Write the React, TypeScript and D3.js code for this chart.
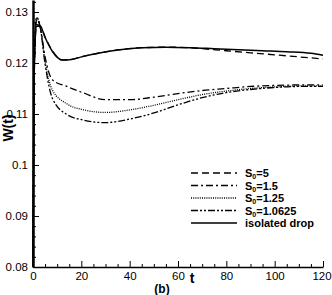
import * as d3 from "d3"
import { useEffect, useRef } from "react"

const width = 332
const height = 295

// time samples and W(t) values
const tIso = [0, 0.5, 1.5, 3, 5, 8, 12, 16, 20, 28, 36, 45, 55, 65, 75, 85, 95, 105, 115, 120]
const wIso = [0.08, 0.118, 0.1272, 0.1272, 0.125, 0.1223, 0.1206, 0.1207, 0.1212, 0.122, 0.1226, 0.123, 0.1231, 0.123, 0.1228, 0.1226, 0.1224, 0.1222, 0.1219, 0.1215]

const tS5 = [0, 0.5, 1.5, 3, 5, 8, 12, 16, 20, 28, 36, 45, 55, 65, 70, 80, 90, 100, 110, 120]
const wS5 = [0.08, 0.118, 0.1275, 0.1273, 0.1251, 0.1224, 0.1206, 0.1207, 0.1212, 0.122, 0.1226, 0.123, 0.1231, 0.123, 0.1228, 0.1224, 0.122, 0.1216, 0.1212, 0.1208]

const tLow = [0, 0.5, 1.5, 3, 5, 8, 14, 21, 30, 40, 50, 60, 70, 80, 90, 100, 110, 120]
const wS15 = [0.08, 0.119, 0.1285, 0.127, 0.1212, 0.1167, 0.1154, 0.1141, 0.1128, 0.1128, 0.1133, 0.114, 0.1146, 0.115, 0.1154, 0.1156, 0.1157, 0.1157]
const wS125 = [0.08, 0.119, 0.1288, 0.127, 0.1203, 0.1147, 0.112, 0.1108, 0.1103, 0.1108, 0.1117, 0.1128, 0.1138, 0.1145, 0.115, 0.1153, 0.1155, 0.1155]
const wS10625 = [0.08, 0.119, 0.129, 0.127, 0.1198, 0.1131, 0.1099, 0.1088, 0.1083, 0.109, 0.1102, 0.1118, 0.1132, 0.1142, 0.1148, 0.1152, 0.1154, 0.1154]

const seriesLabels = ["5", "1.5", "1.25", "1.0625", "isolated drop"]
const dashes = ["7,4", "7,3,2,3", "1,1.2", "7,2,2,2,2,2", "none"]

const xTicks = [0, 20, 40, 60, 80, 100, 120]
const yTicks = [0.08, 0.09, 0.1, 0.11, 0.12, 0.13]

const App = () => {
  const svgRef = useRef<SVGSVGElement>(null)

  useEffect(() => {
    if (!svgRef.current) return
    d3.select(svgRef.current).selectAll("*").remove()

    const MARGIN = { left: 33, right: 9, top: 0, bottom: 28 }
    const svg = d3.select(svgRef.current).append("g")
    const font = "'Liberation Sans', Arial, sans-serif"

    const xScale = d3
      .scaleLinear()
      .domain([0, 120])
      .range([MARGIN.left, width - MARGIN.right])
    const yScale = d3
      .scaleLinear()
      .domain([0.08, 0.13235])
      .range([height - MARGIN.bottom, MARGIN.top])

    const series = [
      { t: tS5, w: wS5 },
      { t: tLow, w: wS15 },
      { t: tLow, w: wS125 },
      { t: tLow, w: wS10625 },
      { t: tIso, w: wIso },
    ]

    const line = d3
      .line<[number, number]>()
      .x((d) => xScale(d[0]))
      .y((d) => yScale(d[1]))
      .curve(d3.curveMonotoneX)

    series.forEach((s, i) => {
      svg
        .append("path")
        .datum(s.t.map((t, j) => [t, s.w[j]] as [number, number]))
        .attr("fill", "none")
        .attr("stroke", "black")
        .attr("stroke-width", i === 4 ? 1.5 : 1.3)
        .attr("stroke-dasharray", dashes[i])
        .attr("d", line)
    })

    // axes (ticks pointing inward)
    const x0 = xScale(0)
    const y0 = yScale(0.08)
    const xAxis = d3
      .axisBottom(xScale)
      .tickValues(xTicks)
      .tickSizeInner(-6)
      .tickSizeOuter(0)
      .tickPadding(5)
      .tickFormat((d) => String(d))
    const gx = svg
      .append("g")
      .attr("transform", `translate(0, ${y0})`)
      .call(xAxis)
    gx.select(".domain").attr("stroke-width", 1.5)
    gx.selectAll("text")
      .attr("font-family", font)
      .attr("font-size", 11.5)
      .attr("fill", "#000")
      .attr("dx", (d) => (d === 120 ? -1.5 : 0))

    svg
      .append("g")
      .attr("transform", `translate(0, ${y0})`)
      .call(
        d3
          .axisBottom(xScale)
          .tickValues(d3.range(0, 121, 5).filter((d) => d % 20 !== 0))
          .tickSizeInner(-3)
          .tickSizeOuter(0)
          .tickFormat(() => ""),
      )
      .select(".domain")
      .remove()

    const yAxis = d3
      .axisLeft(yScale)
      .tickValues(yTicks)
      .tickSizeInner(-6)
      .tickSizeOuter(0)
      .tickPadding(5)
      .tickFormat((d) => String(+(+d).toFixed(2)))
    const gy = svg
      .append("g")
      .attr("transform", `translate(${x0}, 0)`)
      .call(yAxis)
    gy.select(".domain").attr("stroke-width", 2.5)
    gy.selectAll("text").attr("font-family", font).attr("font-size", 11.5).attr("fill", "#000")

    svg
      .append("g")
      .attr("transform", `translate(${x0}, 0)`)
      .call(
        d3
          .axisLeft(yScale)
          .tickValues(d3.range(0.082, 0.1321, 0.002).filter((d) => Math.abs(d * 100 - Math.round(d * 100)) > 1e-6))
          .tickSizeInner(-3)
          .tickSizeOuter(0)
          .tickFormat(() => ""),
      )
      .select(".domain")
      .remove()

    // axis titles
    svg
      .append("text")
      .attr("x", 192)
      .attr("y", 283)
      .attr("text-anchor", "middle")
      .attr("font-family", font)
      .attr("font-weight", "bold")
      .attr("font-size", 14)
      .text("t")
    svg
      .append("text")
      .attr("transform", `translate(13, 128) rotate(-90)`)
      .attr("text-anchor", "middle")
      .attr("font-family", font)
      .attr("font-weight", "bold")
      .attr("font-size", 14)
      .text("W(t)")
    svg
      .append("text")
      .attr("x", 162)
      .attr("y", 293)
      .attr("text-anchor", "middle")
      .attr("font-family", font)
      .attr("font-weight", "bold")
      .attr("font-size", 12)
      .text("(b)")

    // legend
    const legendY = [173, 185.5, 198, 210.5, 223]
    seriesLabels.forEach((label, i) => {
      svg
        .append("line")
        .attr("x1", 191)
        .attr("x2", 237)
        .attr("y1", legendY[i])
        .attr("y2", legendY[i])
        .attr("stroke", "black")
        .attr("stroke-width", i === 4 ? 1.5 : 1.3)
        .attr("stroke-dasharray", dashes[i])
      const txt = svg
        .append("text")
        .attr("x", 245)
        .attr("y", legendY[i] + 4)
        .attr("font-family", font)
        .attr("font-weight", "bold")
        .attr("font-size", 11)
      if (i === 4) {
        txt.text(label)
      } else {
        txt.append("tspan").text("S")
        txt.append("tspan").attr("font-size", 7).attr("dy", 2).text("0")
        txt.append("tspan").attr("dy", -2).text("=" + label)
      }
    })
  }, [])

  return (
    <svg
      ref={svgRef}
      width={width}
      height={height}
      style={{ position: "absolute", left: 0, top: 0, display: "block", background: "white" }}
    />
  )
}

export default App
